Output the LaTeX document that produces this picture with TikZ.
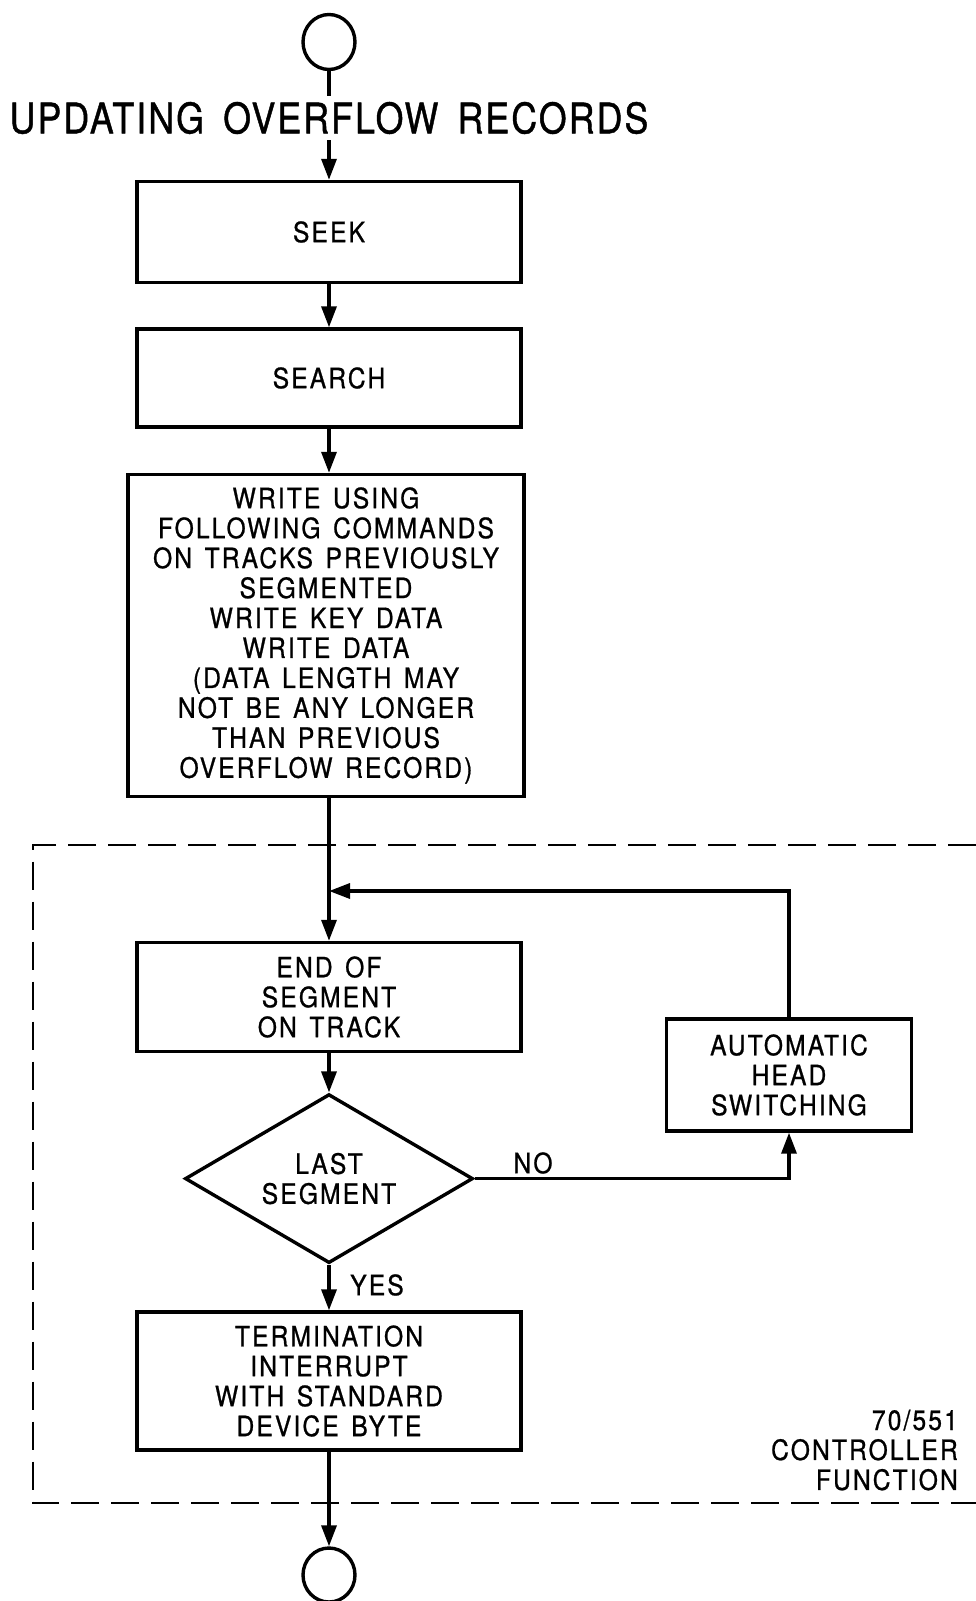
\documentclass[tikz,border=0pt]{standalone}
\usepackage{fontspec}
\setmainfont{TeX Gyre Heros}
\newfontfamily\letterfont[FakeStretch=0.88,LetterSpace=7.5,WordSpace=1.4,FakeBold=0.8]{TeX Gyre Heros}
\newfontfamily\titlefont[FakeStretch=0.85,LetterSpace=5,WordSpace=1.6,FakeBold=1]{TeX Gyre Heros}
\usetikzlibrary{arrows.meta,shapes.geometric}

\begin{document}
\begin{tikzpicture}[x=1pt,y=-1pt,
  every node/.style={font=\letterfont\fontsize{28}{29.95}\selectfont},
  stepbox/.style={draw, line width=3.4pt, minimum width=384pt, align=center, inner sep=0pt},
  flow/.style={line width=3.4pt, -{Triangle[length=21pt,width=15pt]}},
  plain/.style={line width=3.4pt},
  terminal/.style={draw, ellipse, line width=3.4pt, minimum width=52pt, minimum height=55pt, inner sep=0pt},
  decision/.style={draw, diamond, line width=3.4pt, minimum width=288pt, minimum height=169pt, inner sep=0pt, align=center, aspect=1.7},
  frame/.style={line width=2.2pt, dash pattern=on 28pt off 12pt},
  tag/.style={inner sep=0pt}
]
\useasboundingbox (0,0) rectangle (976,1601);

% connector circles and heading
\node[terminal] (start) at (329,42) {};
\node[tag, inner sep=6pt, font=\titlefont\fontsize{42}{44}\selectfont] (title) at (329,118) {UPDATING OVERFLOW RECORDS};

% main column of steps
\node[stepbox, minimum height=101pt] (seek) at (329,232) {SEEK};
\node[stepbox, minimum height=98pt] (search) at (329,378) {SEARCH};
\node[stepbox, minimum width=396pt, minimum height=322pt] (write) at (326,635.5)
  {WRITE USING\\FOLLOWING COMMANDS\\ON TRACKS PREVIOUSLY\\SEGMENTED\\WRITE KEY DATA\\WRITE DATA\\(DATA LENGTH MAY\\NOT BE ANY LONGER\\THAN PREVIOUS\\OVERFLOW RECORD)};

% controller function region
\draw[frame] (976,845) -- (32.7,845) -- (32.7,1503) -- (976,1503);

\coordinate (merge) at (329,891);
\node[stepbox, minimum height=109pt] (end) at (329,997) {END OF\\SEGMENT\\ON TRACK};
\node[decision] (test) at (329,1178.6) {LAST\\SEGMENT};
\node[stepbox, minimum width=245pt, minimum height=112pt] (auto) at (789,1075) {AUTOMATIC\\HEAD\\SWITCHING};
\node[stepbox, minimum height=138pt] (term) at (329,1381) {TERMINATION\\INTERRUPT\\WITH STANDARD\\DEVICE BYTE};
\node[terminal, minimum height=54pt] (stop) at (329,1575) {};

\node[tag] (no) at (533,1163) {NO};
\node[tag] (yes) at (377,1285) {YES};
\node[tag, align=right, anchor=east] (ctrl) at (958,1450) {70/551\\CONTROLLER\\FUNCTION};

% connectors
\draw[plain] (start) -- (title);
\draw[flow] (title) -- (seek);
\draw[flow] (seek) -- (search);
\draw[flow] (search) -- (search |- write.north);
\draw[flow] (end |- write.south) -- (end);
\draw[flow] (end) -- (test);
\draw[flow] (test.east) -| (auto.south);
\draw[flow] (auto.north) |- (merge);
\draw[flow] (test) -- (term);
\draw[flow] (term) -- (stop);
\end{tikzpicture}
\end{document}
